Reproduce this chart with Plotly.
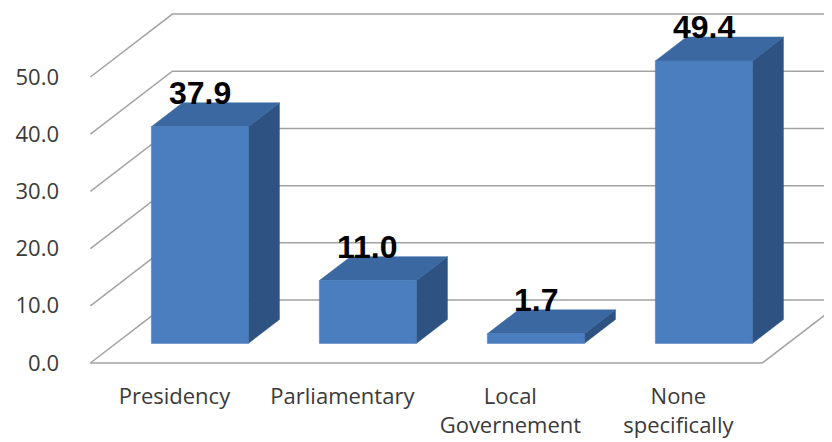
import plotly.graph_objects as go

categories = ["Presidency", "Parliamentary", "Local<br>Governement", "None<br>specifically"]
values = [37.9, 11.0, 1.7, 49.4]
tick_values = [0, 10, 20, 30, 40, 50]
tick_labels = ["0.0", "10.0", "20.0", "30.0", "40.0", "50.0"]

# pseudo-3D projection parameters (in axis units)
DX = 0.488   # depth shift along x (category units)
DY = 11.0    # depth shift along y (value units)
DF, DB = 0.31, 0.69   # bar front / back depth fraction
W = 0.577    # bar width (category units)

FRONT, TOP, SIDE = "#4a7ebf", "#3b68a0", "#2e5383"
GRID = "#a3a3a3"

fig = go.Figure()

n = len(categories)
xl0 = -0.5
xr0 = n - 0.5

# walls / floor grid lines
gx, gy = [], []
for v in tick_values:
    gx += [xl0, xl0 + DX, 4.6, None]
    gy += [v, v + DY, v + DY, None]
gx += [xl0, xr0, xr0 + DX, None]
gy += [0, 0, DY, None]
fig.add_trace(go.Scatter(x=gx, y=gy, mode="lines", line=dict(color=GRID, width=1.5),
                         hoverinfo="skip", showlegend=False))

yf, yb = DF * DY, DB * DY
ddx = (DB - DF) * DX
for i, v in enumerate(values):
    xl = i - W / 2 + DF * DX
    xr = i + W / 2 + DF * DX
    # side face
    fig.add_trace(go.Scatter(x=[xr, xr + ddx, xr + ddx, xr, xr],
                             y=[yf, yb, v + yb, v + yf, yf],
                             fill="toself", fillcolor=SIDE, mode="lines",
                             line=dict(color=SIDE, width=0.5), hoverinfo="skip", showlegend=False))
    # top face
    fig.add_trace(go.Scatter(x=[xl, xr, xr + ddx, xl + ddx, xl],
                             y=[v + yf, v + yf, v + yb, v + yb, v + yf],
                             fill="toself", fillcolor=TOP, mode="lines",
                             line=dict(color=TOP, width=0.5), hoverinfo="skip", showlegend=False))
    # front face
    fig.add_trace(go.Scatter(x=[xl, xr, xr, xl, xl],
                             y=[yf, yf, v + yf, v + yf, yf],
                             fill="toself", fillcolor=FRONT, mode="lines",
                             line=dict(color=FRONT, width=0.5), hoverinfo="skip", showlegend=False))
    fig.add_annotation(x=i + DF * DX, y=v + yb, text=f"<b>{v:.1f}</b>", showarrow=False,
                       xanchor="center", yanchor="bottom", yshift=-10,
                       font=dict(family="Liberation Sans", size=32, color="#000000"))

fig.update_layout(
    width=832, height=442,
    margin=dict(l=74, r=0, t=0, b=73),
    paper_bgcolor="white", plot_bgcolor="white",
    xaxis=dict(range=[-0.55, 3.962], tickvals=list(range(n)), ticktext=categories,
               showgrid=False, zeroline=False, showline=False, ticks="",
               ticklabelstandoff=4,
               tickfont=dict(family="Open Sans", size=22, color="#3a3a3a")),
    yaxis=dict(range=[-2.45, 62.06], tickvals=tick_values, ticktext=tick_labels,
               showgrid=False, zeroline=False, showline=False, ticks="",
               ticklabelstandoff=22,
               tickfont=dict(family="Open Sans", size=22, color="#3a3a3a")),
    font=dict(family="Open Sans"),
    showlegend=False,
)

fig.write_html("out.html")
